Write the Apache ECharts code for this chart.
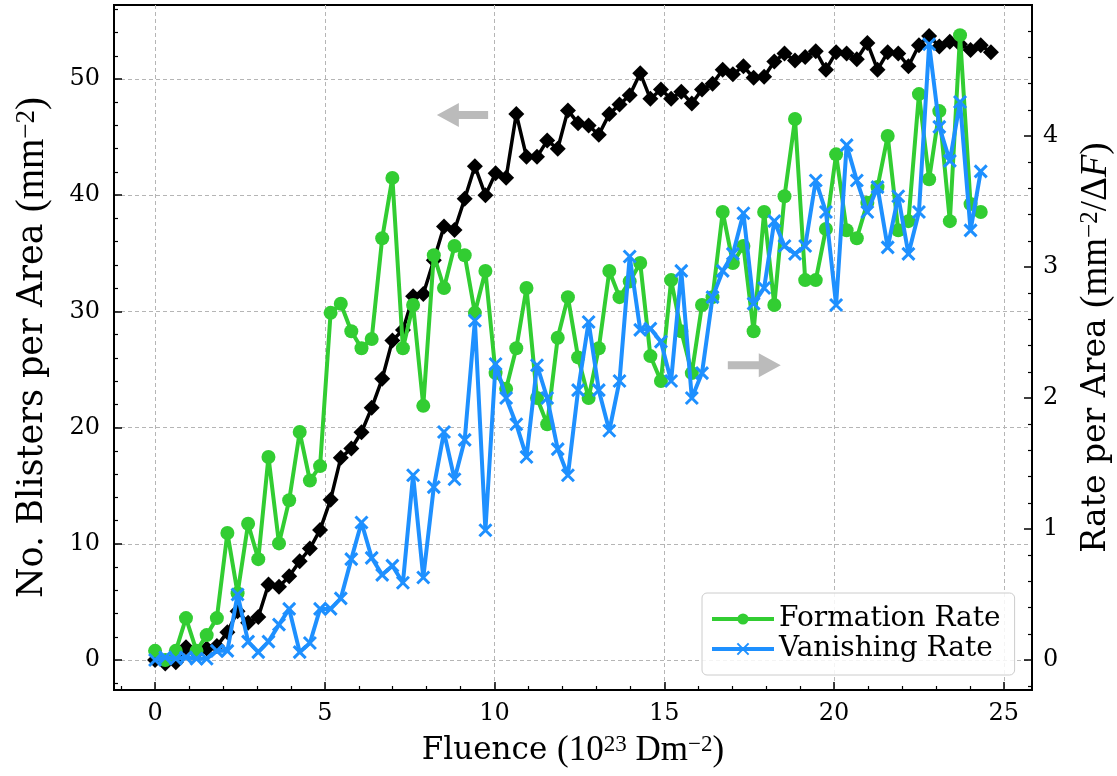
<!DOCTYPE html>
<html lang="en">
<head>
<meta charset="UTF-8">
<title>Blisters per area</title>
<style>
    html, body { margin: 0; padding: 0; background: #fff; }
    #chart { width: 1117px; height: 776px; }
</style>
</head>
<body>
<div id="chart"></div>
<script src="https://cdn.jsdelivr.net/npm/echarts@6/dist/echarts.min.js"></script>
<script>
// fluence (10^23 D/m^2) of each frame
var fluence = [0, 0.30, 0.61, 0.91, 1.22, 1.52, 1.82, 2.13, 2.43, 2.74,
    3.04, 3.34, 3.65, 3.95, 4.26, 4.56, 4.86, 5.17, 5.47, 5.78,
    6.08, 6.38, 6.69, 6.99, 7.30, 7.60, 7.90, 8.21, 8.51, 8.82,
    9.12, 9.42, 9.73, 10.03, 10.34, 10.64, 10.94, 11.25, 11.55, 11.86,
    12.16, 12.46, 12.77, 13.07, 13.38, 13.68, 13.98, 14.29, 14.59, 14.90,
    15.20, 15.50, 15.81, 16.11, 16.42, 16.72, 17.02, 17.33, 17.63, 17.94,
    18.24, 18.54, 18.85, 19.15, 19.46, 19.76, 20.06, 20.37, 20.67, 20.98,
    21.28, 21.58, 21.89, 22.19, 22.50, 22.80, 23.10, 23.41, 23.71, 24.02,
    24.32, 24.62];

// blisters per area (left axis)
var blisters = [0, -0.3, -0.2, 1.1, 0.6, 1.0, 1.2, 2.4, 4.2, 3.2,
    3.7, 6.5, 6.3, 7.2, 8.5, 9.6, 11.2, 13.8, 17.4, 18.2,
    19.6, 21.7, 24.2, 27.5, 28.4, 31.3, 31.5, 34.4, 37.3, 37.0,
    39.7, 42.5, 40.0, 41.9, 41.5, 47.0, 43.3, 43.3, 44.7, 44.0,
    47.3, 46.2, 46.0, 45.2, 47.0, 47.8, 48.6, 50.5, 48.3, 49.1,
    48.3, 48.9, 47.9, 49.1, 49.6, 50.8, 50.4, 51.1, 50.1, 50.2,
    51.5, 52.2, 51.6, 51.9, 52.4, 50.8, 52.3, 52.2, 51.7, 53.1,
    50.8, 52.3, 52.2, 51.1, 52.9, 53.7, 52.8, 53.2, 53.0, 52.5,
    52.9, 52.3];

// rates (right axis), one fewer point than blisters
var formationRate = [0.07, 0.0, 0.07, 0.32, 0.07, 0.19, 0.32, 0.97, 0.51, 1.04,
    0.77, 1.55, 0.89, 1.22, 1.74, 1.37, 1.48, 2.65, 2.72, 2.51,
    2.38, 2.45, 3.22, 3.68, 2.38, 2.71, 1.94, 3.09, 2.84, 3.16,
    3.09, 2.65, 2.97, 2.19, 2.07, 2.38, 2.84, 2.00, 1.80, 2.46,
    2.77, 2.31, 2.00, 2.38, 2.97, 2.77, 2.89, 3.03, 2.32, 2.13,
    2.90, 2.51, 2.19, 2.71, 2.77, 3.42, 3.03, 3.16, 2.51, 3.42,
    2.71, 3.54, 4.13, 2.90, 2.90, 3.29, 3.86, 3.28, 3.22, 3.49,
    3.61, 4.00, 3.28, 3.35, 4.32, 3.67, 4.19, 3.35, 4.77, 3.48,
    3.42];

var vanishingRate = [0, 0.02, 0.01, 0.02, 0.01, 0.01, 0.07, 0.07, 0.50, 0.14,
    0.06, 0.14, 0.27, 0.39, 0.06, 0.13, 0.39, 0.39, 0.47, 0.77,
    1.05, 0.78, 0.65, 0.72, 0.59, 1.41, 0.63, 1.32, 1.74, 1.38,
    1.68, 2.59, 0.99, 2.26, 2.00, 1.80, 1.55, 2.25, 2.00, 1.61,
    1.41, 2.06, 2.58, 2.06, 1.75, 2.13, 3.08, 2.52, 2.53, 2.43,
    2.13, 2.97, 2.00, 2.19, 2.77, 2.97, 3.10, 3.41, 2.72, 2.84,
    3.35, 3.16, 3.10, 3.16, 3.66, 3.42, 2.71, 3.93, 3.66, 3.42,
    3.61, 3.15, 3.54, 3.10, 3.42, 4.70, 4.07, 3.81, 4.26, 3.28,
    3.73];

// gray arrows telling which axis a curve belongs to: [tail x, tip x, y, yAxisIndex]
var arrows = [[9.81, 8.30, 46.9, 0], [16.87, 18.43, 2.25, 1]];

var serif = 'DejaVu Serif';
var mathFont = 'Liberation Serif';

function pairs(xs, ys) {
    return ys.map(function (v, i) { return [xs[i], v]; });
}

function nameStyle(size) {
    return {
        fontFamily: serif, fontSize: size, color: '#000',
        rich: {
            m: { fontFamily: mathFont, fontSize: size + 4, color: '#000' },
            it: { fontFamily: mathFont, fontSize: size + 4, fontStyle: 'italic', color: '#000' },
            sup: { fontFamily: mathFont, fontSize: size - 8, color: '#000', verticalAlign: 'top', lineHeight: 16 }
        }
    };
}

function valueAxis(extra) {
    var base = {
        type: 'value',
        nameLocation: 'middle',
        nameTextStyle: nameStyle(31),
        axisLine: { show: true, onZero: false, lineStyle: { color: '#000', width: 2 } },
        axisTick: { show: true, inside: true, length: 8, lineStyle: { color: '#000', width: 1.5 } },
        minorTick: { show: true, length: 4, lineStyle: { color: '#000', width: 1.2 } },
        axisLabel: { fontFamily: serif, fontSize: 24, color: '#000', showMinLabel: false, showMaxLabel: false },
        splitLine: { show: true, showMinLine: false, showMaxLine: false,
            lineStyle: { color: '#b5b5b5', type: [4, 3], width: 1 } }
    };
    return echarts.util.merge(base, extra, true);
}

var chart = echarts.init(document.getElementById('chart'));

var option = {
    animation: false,
    backgroundColor: '#fff',
    grid: {
        left: 114, right: 85, top: 5, bottom: 86,
        show: true, borderColor: '#000', borderWidth: 2,
        containLabel: false, outerBoundsMode: 'none'
    },
    legend: {
        left: 702, top: 593,
        orient: 'vertical',
        itemWidth: 62, itemHeight: 14, itemGap: 0,
        padding: [11, 14, 11, 8],
        backgroundColor: 'rgba(255,255,255,0.85)',
        borderColor: '#cccccc', borderWidth: 1, borderRadius: 5,
        lineStyle: { width: 4 },
        textStyle: { fontFamily: serif, fontSize: 28, lineHeight: 30, color: '#000' },
        data: ['Formation Rate', 'Vanishing Rate']
    },
    xAxis: valueAxis({
        min: -1.21, max: 25.83,
        name: 'Fluence {m|(10}{sup|23}{m| Dm}{sup|−2}{m|)}',
        nameGap: 43,
        minorTick: { splitNumber: 5 },
        axisLabel: { margin: 12 }
    }),
    yAxis: [
        valueAxis({
            min: -2.58, max: 56.37,
            position: 'left',
            name: 'No. Blisters per Area {m|(mm}{sup|−2}{m|)}',
            nameTextStyle: nameStyle(35),
            nameRotate: 90, nameGap: 62,
            minorTick: { splitNumber: 5 },
            axisLabel: { margin: 14 }
        }),
        valueAxis({
            min: -0.229, max: 5.0,
            position: 'right',
            name: 'Rate per Area {m|(mm}{sup|−2}{m|/Δ}{it|F}{m|)}',
            nameTextStyle: nameStyle(33),
            nameRotate: 90, nameGap: 46,
            minorTick: { splitNumber: 5 },
            axisLabel: { margin: 11 },
            splitLine: { show: false }
        })
    ],
    series: [
        {
            name: 'Blisters',
            type: 'line',
            yAxisIndex: 0,
            z: 2,
            data: pairs(fluence, blisters),
            symbol: 'diamond',
            symbolSize: 16,
            lineStyle: { color: '#000', width: 3.5 },
            itemStyle: { color: '#000' }
        },
        {
            name: 'Formation Rate',
            type: 'line',
            yAxisIndex: 1,
            z: 3,
            data: pairs(fluence, formationRate),
            symbol: 'circle',
            symbolSize: 14,
            lineStyle: { color: '#32cd32', width: 4 },
            itemStyle: { color: '#32cd32' }
        },
        {
            name: 'Vanishing Rate',
            type: 'line',
            yAxisIndex: 1,
            z: 4,
            data: pairs(fluence, vanishingRate),
            symbol: 'path://M0,0L10,10M10,0L0,10',
            symbolSize: 12,
            lineStyle: { color: '#1e90ff', width: 4 },
            itemStyle: { color: '#1e90ff', borderColor: '#1e90ff', borderWidth: 3 }
        }
    ]
};

chart.setOption(option);

// arrows are placed through the axes, then drawn as polygons
var arrowShapes = arrows.map(function (a) {
    var finder = { xAxisIndex: 0, yAxisIndex: a[3] };
    var tail = chart.convertToPixel(finder, [a[0], a[2]]);
    var tip = chart.convertToPixel(finder, [a[1], a[2]]);
    var dir = tip[0] > tail[0] ? 1 : -1;
    var headLen = 22, headHalf = 12, shaftHalf = 4;
    var neck = tip[0] - dir * headLen;
    var y = tip[1];
    return {
        type: 'polygon',
        silent: true,
        z: 10,
        shape: {
            points: [
                [tail[0], y - shaftHalf], [neck, y - shaftHalf], [neck, y - headHalf],
                [tip[0], y], [neck, y + headHalf], [neck, y + shaftHalf], [tail[0], y + shaftHalf]
            ]
        },
        style: { fill: '#bbbbbb' }
    };
});
chart.setOption({ graphic: arrowShapes });
</script>
</body>
</html>
